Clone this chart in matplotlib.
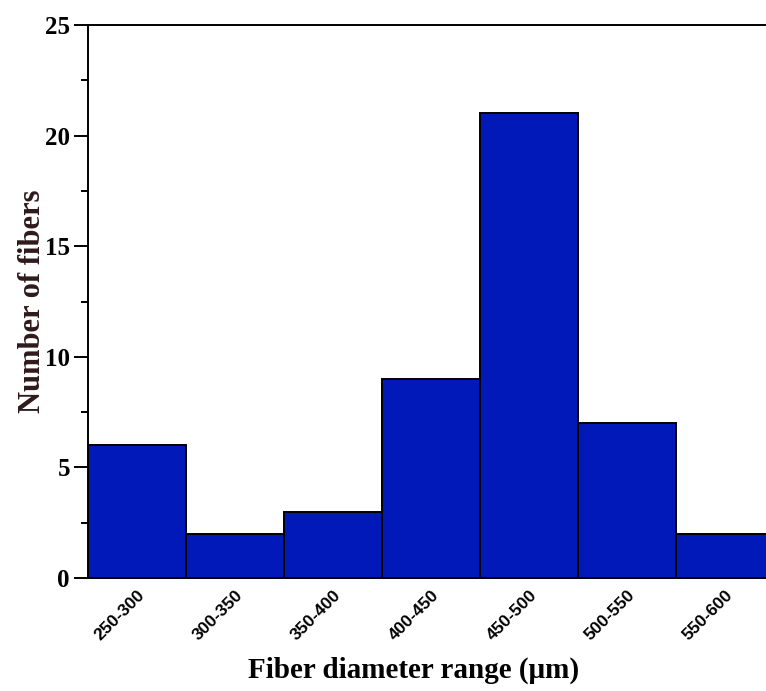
import matplotlib
matplotlib.use("Agg")
import matplotlib.pyplot as plt
from matplotlib.ticker import MultipleLocator

# Histogram data
ranges = ["250-300", "300-350", "350-400", "400-450", "450-500", "500-550", "550-600"]
counts = [6, 2, 3, 9, 21, 7, 2]

fig = plt.figure(figsize=(7.66, 6.91), dpi=100)
# axes run slightly past the right edge, as in the cropped original
ax = fig.add_axes([0.1149, 0.1635, 0.8956, 0.8003])

x = list(range(len(ranges)))
ax.bar(x, counts, width=1.0, color="#0019b8", edgecolor="black", linewidth=1.4)

ax.set_xlim(-0.5, len(ranges) - 0.5)
ax.set_ylim(0, 25)
ax.yaxis.set_major_locator(MultipleLocator(5))
ax.yaxis.set_minor_locator(MultipleLocator(2.5))

ax.set_xticks(x)
ax.set_xticklabels(ranges, rotation=45, ha="right", va="top", rotation_mode="anchor",
                   fontfamily="Liberation Sans", fontweight="bold", fontsize=12.5)
ax.tick_params(axis="x", length=0, pad=7)
ax.tick_params(axis="y", direction="out", length=10, width=1.4, pad=3)
ax.tick_params(axis="y", which="minor", direction="out", length=5, width=1.4)
for lbl in ax.get_yticklabels():
    lbl.set_fontfamily("Liberation Serif")
    lbl.set_fontweight("bold")
    lbl.set_fontsize(18)

for side in ["left", "bottom", "top"]:
    ax.spines[side].set_linewidth(1.4)
ax.spines["right"].set_visible(False)

ax.set_xlabel("Fiber diameter range (\u03bcm)", fontfamily="Liberation Serif",
              fontweight="bold", fontsize=21)
ax.xaxis.set_label_coords(0.474, -0.143)
ax.set_ylabel("Number of fibers", fontfamily="Liberation Serif", fontweight="bold",
              fontsize=22, color="#2e1a1a")
ax.yaxis.set_label_coords(-0.06, 0.5)

fig.savefig("out.png", dpi=100)
